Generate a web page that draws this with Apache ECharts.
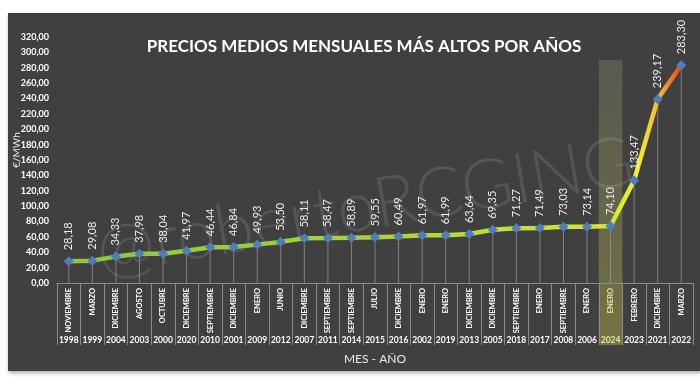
<!DOCTYPE html>
<html><head><meta charset="utf-8">
<script src="https://cdn.jsdelivr.net/npm/echarts@6/dist/echarts.min.js"></script>
<style>html,body{margin:0;padding:0;background:#fff}#c{width:700px;height:387px}</style>
</head><body><div id="c"></div>
<script>
const months = ['NOVIEMBRE','MARZO','DICIEMBRE','AGOSTO','OCTUBRE','DICIEMBRE','SEPTIEMBRE','DICIEMBRE','ENERO','JUNIO','DICIEMBRE','SEPTIEMBRE','SEPTIEMBRE','JULIO','DICIEMBRE','ENERO','ENERO','DICIEMBRE','DICIEMBRE','SEPTIEMBRE','ENERO','SEPTIEMBRE','ENERO','ENERO','FEBRERO','DICIEMBRE','MARZO'];
const years = ['1998','1999','2004','2003','2000','2020','2010','2001','2009','2012','2007','2011','2014','2015','2016','2002','2019','2013','2005','2018','2017','2008','2006','2024','2023','2021','2022'];
const prices = [28.18,29.08,34.33,37.98,38.04,41.97,46.44,46.84,49.93,53.50,58.11,58.47,58.89,59.55,60.49,61.97,61.99,63.64,69.35,71.27,71.49,73.03,73.14,74.10,133.47,239.17,283.30];
const highlightYear = '2024';
const highlightTop = 290;

const months2 = months.map((m,i)=> m + '|' + i);
const fmt = v => v.toFixed(2).replace('.', ',');
const chart = echarts.init(document.getElementById('c'), null, {renderer:'canvas'});
const option = {
  backgroundColor: '#ffffff',
  animation: false,
  grid: {left: 57, right: 7, top: 37, bottom: 104},
  title: {
    text: 'PRECIOS MEDIOS MENSUALES MÁS ALTOS POR AÑOS',
    left: 359, top: 33, textAlign: 'center',
    textStyle: {color: '#ffffff', fontFamily: 'Lato', fontWeight: 'bold', fontSize: 17}
  },
  xAxis: [{
    type: 'category', data: months2, boundaryGap: true,
    axisLine: {lineStyle: {color: '#8c8c8c', width: 1}},
    axisTick: {show: true, interval: 0, length: 62, lineStyle: {color: '#8c8c8c'}},
    axisLabel: {interval: 0, rotate: 90, margin: 5, formatter: v => v.split('|')[0],
      color: (v, i) => years[i] === highlightYear ? '#e6e6a8' : '#ffffff',
      fontFamily: 'Lato', fontWeight: 'bold', fontSize: 7.5}
  }, {
    type: 'category', data: years, position: 'bottom', gridIndex: 0,
    axisLine: {show: false}, axisTick: {show: false},
    axisLabel: {interval: 0, margin: 53,
      color: (v) => v === highlightYear ? '#e6e6a8' : '#ffffff',
      fontFamily: 'Lato', fontWeight: 'bold', fontSize: 8.5},
    name: 'MES - AÑO', nameLocation: 'middle', nameGap: 70,
    nameTextStyle: {color: '#e8e8e8', fontFamily: 'Lato', fontSize: 12}
  }],
  yAxis: {
    type: 'value', min: 0, max: 320, interval: 20,
    axisLine: {show: false}, axisTick: {show: false}, splitLine: {show: false},
    axisLabel: {formatter: v => fmt(v), color: '#ffffff', fontFamily: 'Lato', fontWeight: 'bold', fontSize: 9, margin: 8}
  },
  series: [{
    type: 'bar', data: prices, barWidth: 1, barGap: '-100%', z: 1,
    itemStyle: {color: 'rgba(150,150,150,0.75)'}, silent: true
  }, {
    type: 'line', data: prices, z: 5,
    symbol: 'path://M0,-1L1,0L0,1L-1,0Z', symbolSize: 10,
    itemStyle: {color: '#4f7dbd', borderWidth: 0},
    lineStyle: {width: 4.5, color: {type: 'linear', x: 0, y: 0, x2: 1, y2: 0, colorStops: [
      {offset: 0, color: '#8cc63f'}, {offset: 0.5, color: '#a9d33a'}, {offset: 0.886, color: '#d4e637'},
      {offset: 0.925, color: '#f4ef30'}, {offset: 0.962, color: '#f4b430'}, {offset: 1, color: '#e0342a'}]}},
    label: {show: true, position: 'top', distance: 6, rotate: 90, align: 'left', verticalAlign: 'middle',
      formatter: p => fmt(p.value), color: '#ececec', fontFamily: 'Lato', fontSize: 11}
  }]
};
chart.setOption(option);

const hi = years.indexOf(highlightYear);
const c0 = chart.convertToPixel({xAxisIndex: 0}, months2[hi]);
const c1 = chart.convertToPixel({xAxisIndex: 0}, months2[hi+1]);
const w = c1 - c0;
const yTop = chart.convertToPixel({yAxisIndex: 0}, highlightTop);
const yZero = chart.convertToPixel({yAxisIndex: 0}, 0);
chart.setOption({graphic: [
  {type: 'rect', z: -10, silent: true, shape: {x: 8, y: 13, width: 692, height: 358},
   style: {fill: '#404040', shadowBlur: 4, shadowColor: 'rgba(0,0,0,0.35)', shadowOffsetX: 1, shadowOffsetY: 2}},
  {type: 'rect', z: 0, silent: true, shape: {x: c0 - w/2, y: yTop, width: w, height: yZero + 62 - yTop},
   style: {fill: {type: 'linear', x: 0, y: 0, x2: 0, y2: 1, colorStops: [
     {offset: 0, color: 'rgba(120,120,100,0.45)'}, {offset: 1, color: 'rgba(150,150,70,0.6)'}]}}},
  {type: 'text', z: 1, silent: true, x: 365, y: 207, rotation: 0.17,
   style: {text: '@robertoRCGING', fill: 'rgba(255,255,255,0.11)', font: '300 70px Lato', align: 'center', verticalAlign: 'middle'}},
  {type: 'text', z: 3, silent: true, x: 17, y: 150, rotation: Math.PI/2,
   style: {text: '€/MWh', fill: '#e8e8e8', font: '10px Lato', align: 'center', verticalAlign: 'middle'}}
]});
</script></body></html>
